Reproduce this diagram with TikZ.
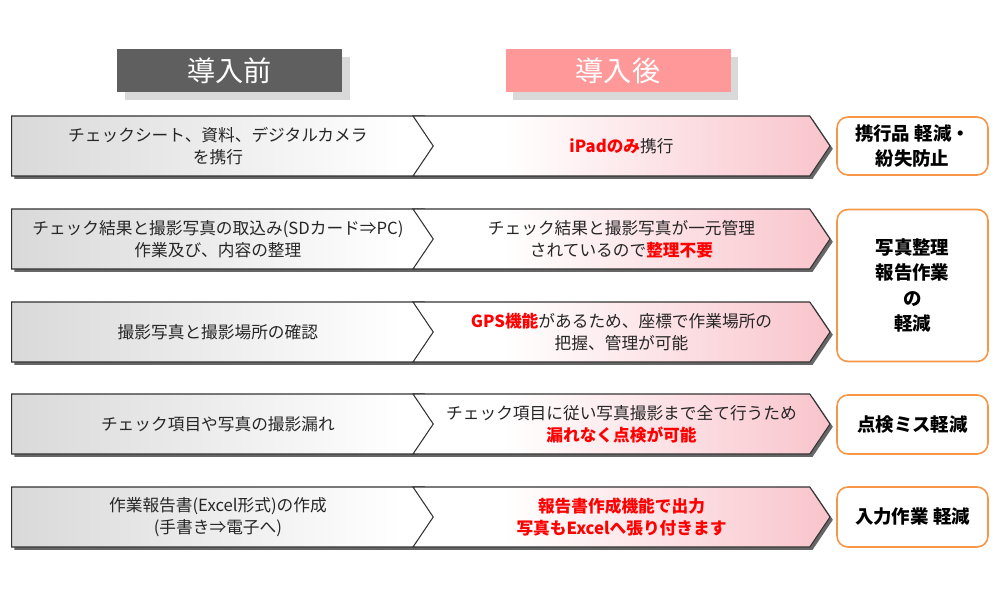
\documentclass[tikz,border=0pt]{standalone}
\usepackage{fontspec}
\setmainfont{Noto Sans CJK JP}
\usetikzlibrary{shapes.symbols,shadows}
\definecolor{befgray}{HTML}{D9D9D9}
\definecolor{aftpink}{HTML}{F9C4CC}
\definecolor{hdrgray}{HTML}{5F5F5F}
\definecolor{hdrpink}{HTML}{FF9999}
\definecolor{resorange}{HTML}{F79646}
\definecolor{txtgray}{HTML}{262626}
\pgfdeclarehorizontalshading{beffade}{100bp}{color(0bp)=(befgray); color(25bp)=(befgray); color(70bp)=(white); color(100bp)=(white)}
\pgfdeclarehorizontalshading{aftfade}{100bp}{color(0bp)=(white); color(36bp)=(white); color(75bp)=(aftpink); color(100bp)=(aftpink)}
\newcommand{\hl}[1]{{\color{red}\bfseries #1}}
\begin{document}
\begin{tikzpicture}[
  x=0.2mm, y=-0.2mm,
  hdrbox/.style={minimum width=45mm, minimum height=8.6mm, inner sep=0pt, text=white, font={\fontsize{16}{18}\selectfont},
    drop shadow={shadow xshift=4.5pt, shadow yshift=-4.5pt, fill=befgray, opacity=1}},
  befstep/.style={signal, signal to=east, signal pointer angle=112, draw=black!80, line width=0.6pt, shading=beffade,
    minimum width=86.6mm, minimum height=12mm, inner sep=0pt, align=center, text=txtgray,
    font={\fontsize{9.5}{12.5}\selectfont}, anchor=west,
    drop shadow={shadow xshift=1.6pt, shadow yshift=-1.6pt, fill=black!60, opacity=1}},
  aftstep/.style={befstep, signal from=west, shading=aftfade, minimum width=83.4mm, anchor=center},
  resbox/.style={draw=resorange, line width=0.9pt, rounded corners=2.2mm, fill=white, minimum width=30.2mm,
    align=center, inner sep=0pt, font={\fontsize{10.5}{14.5}\selectfont\bfseries}}
]
\useasboundingbox (0,0) rectangle (1000,600);
\node[hdrbox, fill=hdrgray] (hbef) at (229.5,70.5) {導入前};
\node[hdrbox, fill=hdrpink] (haft) at (618,70.5) {導入後};
\node[befstep] (bef1) at (11,146) {チェックシート、資料、デジタルカメラ\\を携行};
\node[aftstep] (aft1) at (621.5,146) {\hl{iPadのみ}携行};
\node[befstep] (bef2) at (11,239) {チェック結果と撮影写真の取込み(SDカード⇒PC)\\作業及び、内容の整理};
\node[aftstep] (aft2) at (621.5,239) {チェック結果と撮影写真が一元管理\\されているので\hl{整理不要}};
\node[befstep] (bef3) at (11,332) {撮影写真と撮影場所の確認};
\node[aftstep] (aft3) at (621.5,332) {\hl{GPS機能}があるため、座標で作業場所の\\把握、管理が可能};
\node[befstep] (bef4) at (11,424) {チェック項目や写真の撮影漏れ};
\node[aftstep] (aft4) at (621.5,424) {チェック項目に従い写真撮影まで全て行うため\\\hl{漏れなく点検が可能}};
\node[befstep] (bef5) at (11,517) {作業報告書(Excel形式)の作成\\(手書き⇒電子へ)};
\node[aftstep] (aft5) at (621.5,517) {\hl{報告書作成機能で出力}\\\hl{写真もExcelへ張り付きます}};
\node[resbox, minimum height=11.6mm] (res1) at (912.5,146) {携行品 軽減・\\紛失防止};
\node[resbox, minimum height=30.4mm] (res23) at (912.5,285.5) {写真整理\\報告作業\\の\\軽減};
\node[resbox, minimum height=11.8mm] (res4) at (912.5,424.5) {点検ミス軽減};
\node[resbox, minimum height=12mm] (res5) at (912.5,517) {入力作業 軽減};
\end{tikzpicture}
\end{document}
